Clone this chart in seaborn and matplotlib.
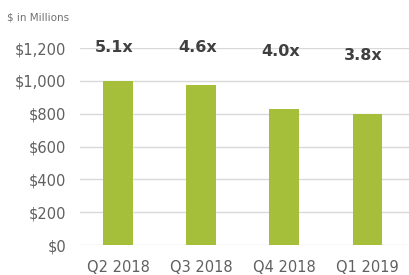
import seaborn as sns
import matplotlib.pyplot as plt
import pandas as pd

# 数据
quarters = ["Q2 2018", "Q3 2018", "Q4 2018", "Q1 2019"]
values = [1000, 972, 828, 800]
multiples = ["5.1x", "4.6x", "4.0x", "3.8x"]
label_y = [1205, 1205, 1180, 1155]

df = pd.DataFrame({"quarter": quarters, "value": values})

sns.set_style("white")
plt.rcParams["font.family"] = ["DejaVu Sans"]

fig = plt.figure(figsize=(4.09, 2.75), dpi=100)
ax = fig.add_axes([0.196, 0.109, 0.804, 0.7164])

sns.barplot(data=df, x="quarter", y="value", color="#a6bf3a",
            width=0.36, saturation=1, linewidth=0, ax=ax, zorder=3)

for i, (txt, y) in enumerate(zip(multiples, label_y)):
    ax.text(i - 0.05, y, txt, ha="center", va="center", fontsize=11.5,
            fontweight="bold", color="#404040", clip_on=False)

ax.set_ylim(0, 1200)
ax.set_xlim(-0.46, 3.5)
ax.set_yticks(range(0, 1201, 200))
ax.set_yticklabels([f"${v:,}" for v in range(0, 1201, 200)])
ax.yaxis.grid(True, color="#d9d9d9", linewidth=1, zorder=0)
ax.set_axisbelow(True)
ax.tick_params(axis="y", length=0, pad=10, labelsize=10.5, labelcolor="#606060")
ax.tick_params(axis="x", length=0, pad=11, labelsize=10.5, labelcolor="#606060")
ax.set_xlabel("")
ax.set_ylabel("")
for s in ax.spines.values():
    s.set_visible(False)

fig.text(0.017, 0.936, "$ in Millions", fontsize=7.5, color="#707070",
         ha="left", va="center")

fig.savefig("out.png", dpi=100)
